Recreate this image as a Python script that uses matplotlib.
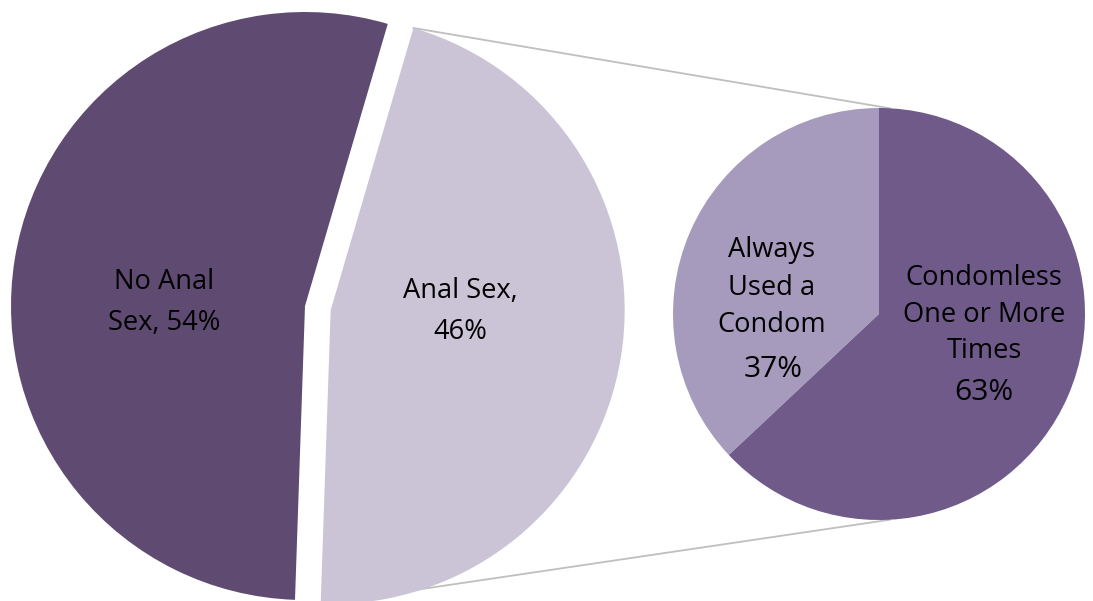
import numpy as np
import matplotlib
matplotlib.use("Agg")
import matplotlib.pyplot as plt

plt.rcParams['font.family'] = ['Open Sans', 'DejaVu Sans']

# data
main_labels = ["No Anal\nSex, 54%", "Anal Sex,\n46%"]
main_values = [54, 46]
sub_labels = ["Always\nUsed a\nCondom", "Condomless\nOne or More\nTimes"]
sub_pct = ["37%", "63%"]
sub_values = [37, 63]

main_colors = ["#5F4B72", "#CBC4D7"]
sub_colors = ["#A69BBC", "#705A8A"]

W, H = 1093, 601

fig = plt.figure(figsize=(W / 100, H / 100), dpi=100)
ax = fig.add_axes([0, 0, 1, 1])

# big pie (pixel units, y up)
big_c = (305, H - 306)
big_r = 294
big_start = 73.65
gap = 26
ax.pie(main_values, colors=main_colors, startangle=big_start, counterclock=True,
       center=big_c, radius=big_r, explode=[0, gap],
       wedgeprops=dict(linewidth=0))

# small pie
small_c = (879, H - 314)
small_r = 206
ax.pie(sub_values, colors=sub_colors, startangle=90, counterclock=True,
       center=small_c, radius=small_r, wedgeprops=dict(linewidth=0))

# connector lines from the exploded slice to the small pie
a1 = big_start + 360 * main_values[0] / sum(main_values)
a2 = big_start + 360
mid = np.radians((a1 + a2) / 2)
lc = (big_c[0] + gap * np.cos(mid), big_c[1] + gap * np.sin(mid))
for a_big, a_small in [(a2, 87), (a1, -87)]:
    p0 = (lc[0] + big_r * np.cos(np.radians(a_big)), lc[1] + big_r * np.sin(np.radians(a_big)))
    p1 = (small_c[0] + small_r * np.cos(np.radians(a_small)),
          small_c[1] + small_r * np.sin(np.radians(a_small)))
    ax.plot([p0[0], p1[0]], [p0[1], p1[1]], color="#BFBFBF", lw=1.3, zorder=0.5)

# labels, one line at a time (baseline positions in pixels)
def put(lines, x, baselines, size):
    for line, yb in zip(lines, baselines):
        ax.text(x, H - yb, line, ha="center", va="baseline", fontsize=size, color="black")

put(main_labels[0].split("\n"), 164, [289, 330], 19.6)
put(main_labels[1].split("\n"), 460, [298, 339], 19.6)
put(sub_labels[0].split("\n"), 772, [257, 295, 332], 19.6)
put([sub_pct[0]], 773, [377], 21.6)
put(sub_labels[1].split("\n"), 984, [285, 322, 358], 19.6)
put([sub_pct[1]], 984, [400], 21.6)

ax.set_xlim(0, W)
ax.set_ylim(0, H)
ax.set_aspect("auto")
ax.axis("off")

fig.savefig("out.png", dpi=100)
